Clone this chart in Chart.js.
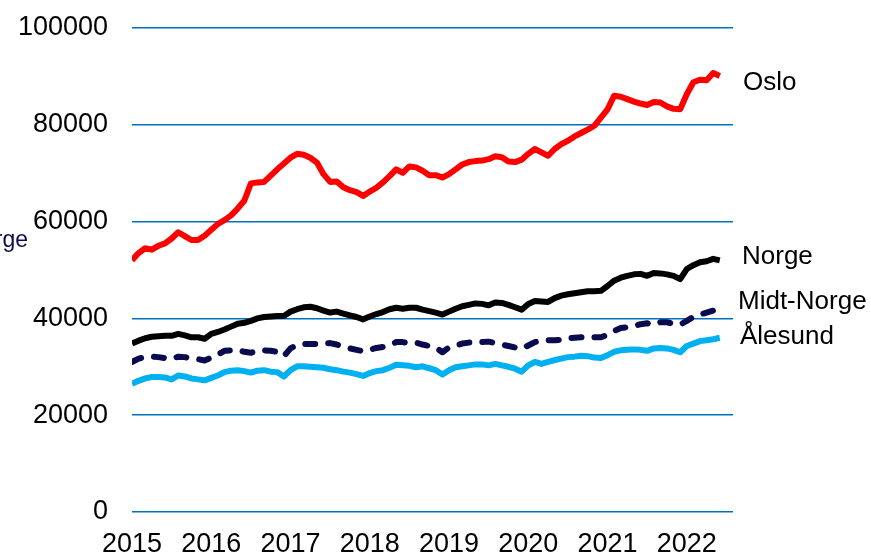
<!DOCTYPE html>
<html>
<head>
<meta charset="utf-8">
<script src="https://cdn.jsdelivr.net/npm/chart.js@4/dist/chart.umd.min.js"></script>
<style>
  html, body { margin: 0; padding: 0; background: #fff; }
  #wrap { width: 871px; height: 556px; position: relative; }
</style>
</head>
<body>
<div id="wrap"><canvas id="chart"></canvas></div>
<script>
// månedlige verdier, januar 2015 - juni 2022
const startYear = 2015;
const yearTicks = [2015, 2016, 2017, 2018, 2019, 2020, 2021, 2022];

const oslo = [
  52000, 53500, 54500, 54200, 55000, 55500, 56500, 57800, 57000, 56200, 56200, 57100,
  58300, 59500, 60300, 61300, 62700, 64300, 67900, 68100, 68200, 69500, 70800, 72000,
  73200, 74000, 73800, 73200, 72200, 69800, 68200, 68300, 67100, 66500, 66100, 65300,
  66200, 67000, 68100, 69400, 70800, 70100, 71400, 71200, 70500, 69600, 69600, 69100,
  69800, 70800, 71800, 72300, 72500, 72600, 72900, 73500, 73300, 72400, 72300, 72800,
  74000, 75000, 74300, 73600, 75000, 76000, 76700, 77600, 78300, 79000, 79800, 81500,
  83200, 86000, 85800, 85300, 84800, 84400, 84100, 84700, 84600, 83800, 83300, 83200,
  86300, 88800, 89300, 89200, 90700, 90100
];

const norge = [
  34800, 35400, 35900, 36200, 36300, 36400, 36400, 36800, 36500, 36100, 36100, 35800,
  36800, 37200, 37700, 38300, 38900, 39100, 39500, 40000, 40300, 40400, 40500, 40500,
  41400, 41900, 42300, 42400, 42100, 41600, 41200, 41400, 41000, 40600, 40300, 39800,
  40400, 40900, 41300, 41900, 42200, 42000, 42200, 42200, 41800, 41500, 41200, 40800,
  41400, 42000, 42500, 42800, 43100, 43000, 42700, 43300, 43200, 42800, 42300, 41800,
  43000, 43600, 43500, 43400, 44200, 44700, 45000, 45200, 45400, 45600, 45600, 45700,
  46700, 47800, 48400, 48800, 49100, 49200, 48800, 49400, 49300, 49100, 48800, 48100,
  50200, 51000, 51600, 51800, 52300, 52000
];

const midtNorge = [
  31000, 31700, 32000, 32100, 32000, 31800, 31600, 32100, 32000, 31700, 31600, 31300,
  31900, 32500, 33300, 33400, 33500, 33100, 32900, 33300, 33400, 33300, 33100, 32200,
  33800, 34500, 34700, 34700, 34700, 34800, 34900, 34600, 34200, 33800, 33500, 33200,
  33500, 33900, 34100, 34500, 35100, 35100, 34900, 35000, 34600, 34300, 34000, 33000,
  34000, 34400, 34800, 35000, 35000, 35100, 35200, 34900, 34600, 34300, 34000, 33700,
  34400, 35100, 35400, 35500, 35500, 35600, 35900, 36000, 36100, 36200, 36100, 36100,
  36600, 37400, 38000, 38200, 38400, 38800, 39000, 38700, 39200, 39200, 38900, 38700,
  39500, 40300, 40800, 41200, 41600, 41700
];

const alesund = [
  26500, 27100, 27600, 27900, 27900, 27800, 27400, 28200, 28000, 27600, 27400, 27200,
  27700, 28200, 28900, 29200, 29300, 29100, 28800, 29200, 29300, 29000, 28900, 28000,
  29300, 30100, 30100, 30000, 29900, 29800, 29500, 29300, 29000, 28800, 28500, 28100,
  28700, 29100, 29300, 29800, 30400, 30300, 30200, 29900, 30100, 29700, 29300, 28400,
  29300, 29900, 30100, 30300, 30500, 30500, 30300, 30600, 30300, 30000, 29600, 29000,
  30300, 31000, 30600, 31000, 31400, 31700, 32000, 32100, 32300, 32200, 31900, 31800,
  32400, 33100, 33400, 33500, 33600, 33500, 33300, 33800, 33900, 33800, 33500, 33000,
  34300, 34800, 35300, 35500, 35700, 36000
];

const FONT = "'Liberation Sans', Arial, sans-serif";

// verdi -> {x: månedsindeks, y: verdi}
function toPoints(values) {
  return values.map((v, i) => ({ x: i, y: v }));
}

function lineSet(label, values, color, extra = {}) {
  return {
    label,
    data: toPoints(values),
    borderColor: color,
    backgroundColor: color,
    borderWidth: 6,
    pointRadius: 0,
    tension: 0,
    borderJoinStyle: 'round',
    borderCapStyle: 'butt',
    ...extra
  };
}

// navn ved enden av hver linje (y i dataenheter)
const endLabels = [
  { text: 'Oslo', y: 88600, dx: 10 },
  { text: 'Norge', y: 52700, dx: 9 },
  { text: 'Midt-Norge', y: 43400, dx: 5 },
  { text: 'Ålesund', y: 36200, dx: 7 }
];

const labelPlugin = {
  id: 'endLabels',
  afterDraw(chart) {
    const { ctx, scales, chartArea } = chart;
    ctx.save();
    ctx.font = '26px ' + FONT;
    ctx.fillStyle = '#000';
    ctx.textBaseline = 'middle';
    ctx.textAlign = 'left';
    endLabels.forEach(l => {
      ctx.fillText(l.text, chartArea.right + l.dx, scales.y.getPixelForValue(l.y));
    });
    // avkuttet tekst i venstre kant
    ctx.font = '23px ' + FONT;
    ctx.fillStyle = '#0c0c4a';
    ctx.textAlign = 'right';
    ctx.fillText('Midt-Norge', 28, 241);
    ctx.restore();
  }
};

new Chart(document.getElementById('chart'), {
  type: 'line',
  data: {
    datasets: [
      lineSet('Oslo', oslo, '#ff0000'),
      lineSet('Norge', norge, '#000000'),
      lineSet('Midt-Norge', midtNorge, '#0a0a4e', { borderDash: [10, 13], borderCapStyle: 'round' }),
      lineSet('Ålesund', alesund, '#00b0f0')
    ]
  },
  options: {
    responsive: true,
    maintainAspectRatio: false,
    animation: false,
    layout: { padding: { top: 28, right: 138, left: 0, bottom: 0 } },
    plugins: {
      legend: { display: false },
      tooltip: { enabled: false }
    },
    scales: {
      x: {
        type: 'linear',
        min: 0,
        max: 91,
        afterBuildTicks(axis) {
          axis.ticks = yearTicks.map(y => ({ value: (y - startYear) * 12 }));
        },
        afterFit(axis) {
          axis.height = 44;
          axis.paddingLeft = 0;
          axis.paddingRight = 0;
        },
        grid: { display: false },
        border: { display: false },
        ticks: {
          autoSkip: false,
          maxRotation: 0,
          padding: 8,
          color: '#000',
          font: { family: FONT, size: 27 },
          callback: v => String(startYear + v / 12)
        }
      },
      y: {
        min: 0,
        max: 100000,
        afterFit(axis) {
          axis.width = 132;
          axis.paddingTop = 0;
          axis.paddingBottom = 0;
        },
        grid: { color: '#0070c0', lineWidth: 1.5, drawTicks: false },
        border: { display: false },
        ticks: {
          stepSize: 20000,
          padding: 24,
          color: '#000',
          font: { family: FONT, size: 27 },
          callback: v => String(v)
        }
      }
    }
  },
  plugins: [labelPlugin]
});
</script>
</body>
</html>
